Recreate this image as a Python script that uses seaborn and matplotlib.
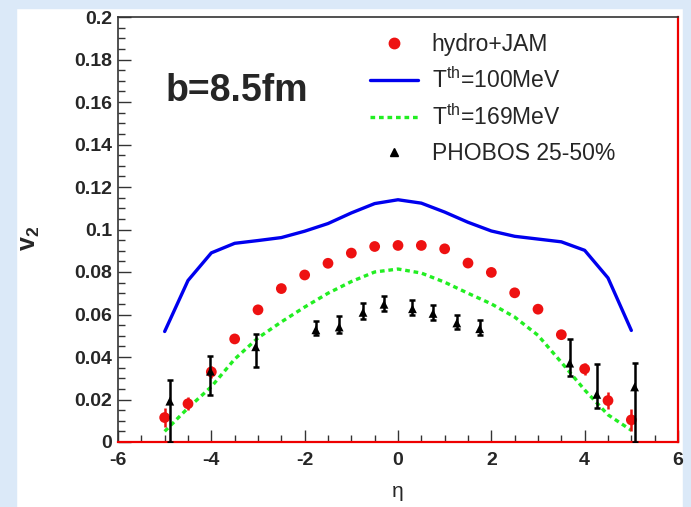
import numpy as np
import pandas as pd
import matplotlib
matplotlib.use("Agg")
import matplotlib.pyplot as plt
from matplotlib.patches import Rectangle
from matplotlib.lines import Line2D
from matplotlib.ticker import MultipleLocator, FuncFormatter
import seaborn as sns

# ---- data ----
eta_model = [-5.0, -4.5, -4.0, -3.5, -3.0, -2.5, -2.0, -1.5, -1.0, -0.5, 0.0,
             0.5, 1.0, 1.5, 2.0, 2.5, 3.0, 3.5, 4.0, 4.5, 5.0]
v2_hydro_jam = [0.0115, 0.018, 0.033, 0.0485, 0.0622, 0.0722, 0.0786, 0.0841, 0.0889, 0.0920, 0.0925,
                0.0925, 0.0909, 0.0842, 0.0798, 0.0702, 0.0625, 0.0505, 0.0344, 0.0195, 0.0104]
err_hydro_jam = [0.0045, 0.003, 0.003, 0.0, 0.0, 0.0, 0.0, 0.0, 0.0, 0.0, 0.0,
                 0.0, 0.0, 0.0, 0.0, 0.0, 0.0, 0.0, 0.003, 0.004, 0.005]
v2_t100 = [0.052, 0.076, 0.089, 0.0935, 0.0948, 0.0962, 0.0992, 0.1028, 0.1078, 0.1122, 0.1140,
           0.1124, 0.1082, 0.1034, 0.0993, 0.0968, 0.0955, 0.0942, 0.0902, 0.0772, 0.0525]
v2_t169 = [0.005, 0.016, 0.026, 0.039, 0.049, 0.0565, 0.0635, 0.0700, 0.0755, 0.0800, 0.0814,
           0.0795, 0.0752, 0.0700, 0.0650, 0.0588, 0.0502, 0.0375, 0.0245, 0.0128, 0.0055]

eta_phobos = [-4.89, -4.02, -3.05, -1.76, -1.26, -0.75, -0.30, 0.31, 0.75, 1.26, 1.75, 3.68, 4.26, 5.07]
v2_phobos = [0.0192, 0.0333, 0.0448, 0.0528, 0.0541, 0.0610, 0.0648, 0.0627, 0.0605, 0.0560, 0.0533,
             0.0371, 0.0224, 0.0259]
err_lo_phobos = [0.0192, 0.0110, 0.0096, 0.0025, 0.0030, 0.0030, 0.0030, 0.0030, 0.0030, 0.0030, 0.0030,
                 0.0060, 0.0064, 0.0259]
err_hi_phobos = [0.0100, 0.0070, 0.0060, 0.0040, 0.0050, 0.0045, 0.0040, 0.0040, 0.0040, 0.0040, 0.0040,
                 0.0114, 0.0144, 0.0114]

labels = ["hydro+JAM", "T$^{\\rm th}$=100MeV", "T$^{\\rm th}$=169MeV", "PHOBOS 25-50%"]
annotation = "b=8.5fm"

# ---- style ----
sns.set_theme(style="ticks")
plt.rcParams['font.family'] = ['Liberation Sans', 'DejaVu Sans']
plt.rcParams['mathtext.fontset'] = 'custom'
plt.rcParams['mathtext.rm'] = 'Liberation Sans'
plt.rcParams['mathtext.bf'] = 'Liberation Sans:bold'

fig = plt.figure(figsize=(6.91, 5.07), dpi=100)
fig.patch.set_facecolor("white")
# light-blue slide border
bg = "#dbe9f8"
fig.patches.append(Rectangle((0, 0), 16/691, 1, transform=fig.transFigure, color=bg, zorder=-10))
fig.patches.append(Rectangle((0, 1-8/507), 1, 8/507, transform=fig.transFigure, color=bg, zorder=-10))
fig.patches.append(Rectangle((1-8/691, 0), 8/691, 1, transform=fig.transFigure, color=bg, zorder=-10))

ax = fig.add_axes([118/691, 65/507, 560/691, 425/507])
ax.set_facecolor("white")

df_model = pd.DataFrame({"eta": eta_model, "hydro": v2_hydro_jam, "t100": v2_t100, "t169": v2_t169})
df_ph = pd.DataFrame({"eta": eta_phobos, "v2": v2_phobos})

green_dash = [1.4, 1.15]
sns.lineplot(data=df_model, x="eta", y="t100", ax=ax, color="#0000ee", lw=2.4, zorder=3)
sns.lineplot(data=df_model, x="eta", y="t169", ax=ax, color="#22ee22", lw=2.4, zorder=3)
ax.lines[-1].set_dashes(green_dash)

ax.errorbar(eta_model, v2_hydro_jam, yerr=err_hydro_jam, fmt="none", ecolor="#ee1111", elinewidth=1.8,
            capsize=0, zorder=4)
sns.scatterplot(data=df_model, x="eta", y="hydro", ax=ax, color="#ee1111", s=60, marker="o",
                edgecolor="none", zorder=5)

ax.errorbar(eta_phobos, v2_phobos, yerr=[err_lo_phobos, err_hi_phobos], fmt="none", ecolor="black",
            elinewidth=1.8, capsize=2.5, capthick=1.8, zorder=6)
sns.scatterplot(data=df_ph, x="eta", y="v2", ax=ax, color="black", s=40, marker="^",
                edgecolor="none", zorder=7)

ax.set_xlim(-6, 6)
ax.set_ylim(0, 0.2)
ax.xaxis.set_major_locator(MultipleLocator(2))
ax.xaxis.set_minor_locator(MultipleLocator(0.5))
ax.yaxis.set_major_locator(MultipleLocator(0.02))
ax.yaxis.set_minor_locator(MultipleLocator(0.005))
ax.yaxis.set_major_formatter(FuncFormatter(lambda v, p: "%g" % round(v, 3)))
ax.xaxis.set_major_formatter(FuncFormatter(lambda v, p: "%g" % v))
ax.tick_params(axis="both", which="major", direction="in", length=9, width=1, color="#333333",
               labelsize=14)
ax.tick_params(axis="both", which="minor", direction="in", length=5, width=1, color="#333333")
ax.tick_params(axis="x", which="both", top=False, pad=7)
ax.tick_params(axis="y", which="both", right=False, pad=4)
for lab in ax.get_xticklabels() + ax.get_yticklabels():
    lab.set_fontweight("bold")

for side in ["top", "left"]:
    ax.spines[side].set_color("#333333")
    ax.spines[side].set_linewidth(1.2)
for side in ["right", "bottom"]:
    ax.spines[side].set_color("#ee0000")
    ax.spines[side].set_linewidth(1.6)

ax.set_xlabel("η", fontsize=15)
ax.xaxis.set_label_coords(0.5, -0.095)
ax.set_ylabel("v$_{\\mathbf{2}}$", fontsize=18, fontweight="bold")
ax.yaxis.set_label_coords(-0.136, 0.48)

ax.text(0.085, 0.825, annotation, transform=ax.transAxes, fontsize=27, fontweight="bold",
        ha="left", va="center")

handles = [
    Line2D([], [], ls="none", marker="o", color="#ee1111", markersize=7.5),
    Line2D([], [], color="#0000ee", lw=2.4),
    Line2D([], [], color="#22ee22", lw=2.4, dashes=green_dash),
    Line2D([], [], ls="none", marker="^", color="black", markersize=6),
]
ax.legend(handles, labels, loc="upper left", bbox_to_anchor=(0.425, 0.995), frameon=False,
          fontsize=16.5, labelspacing=0.5, handlelength=2.1, handletextpad=0.6, borderaxespad=0.2)

fig.savefig("out.png", dpi=100, facecolor=fig.get_facecolor())
